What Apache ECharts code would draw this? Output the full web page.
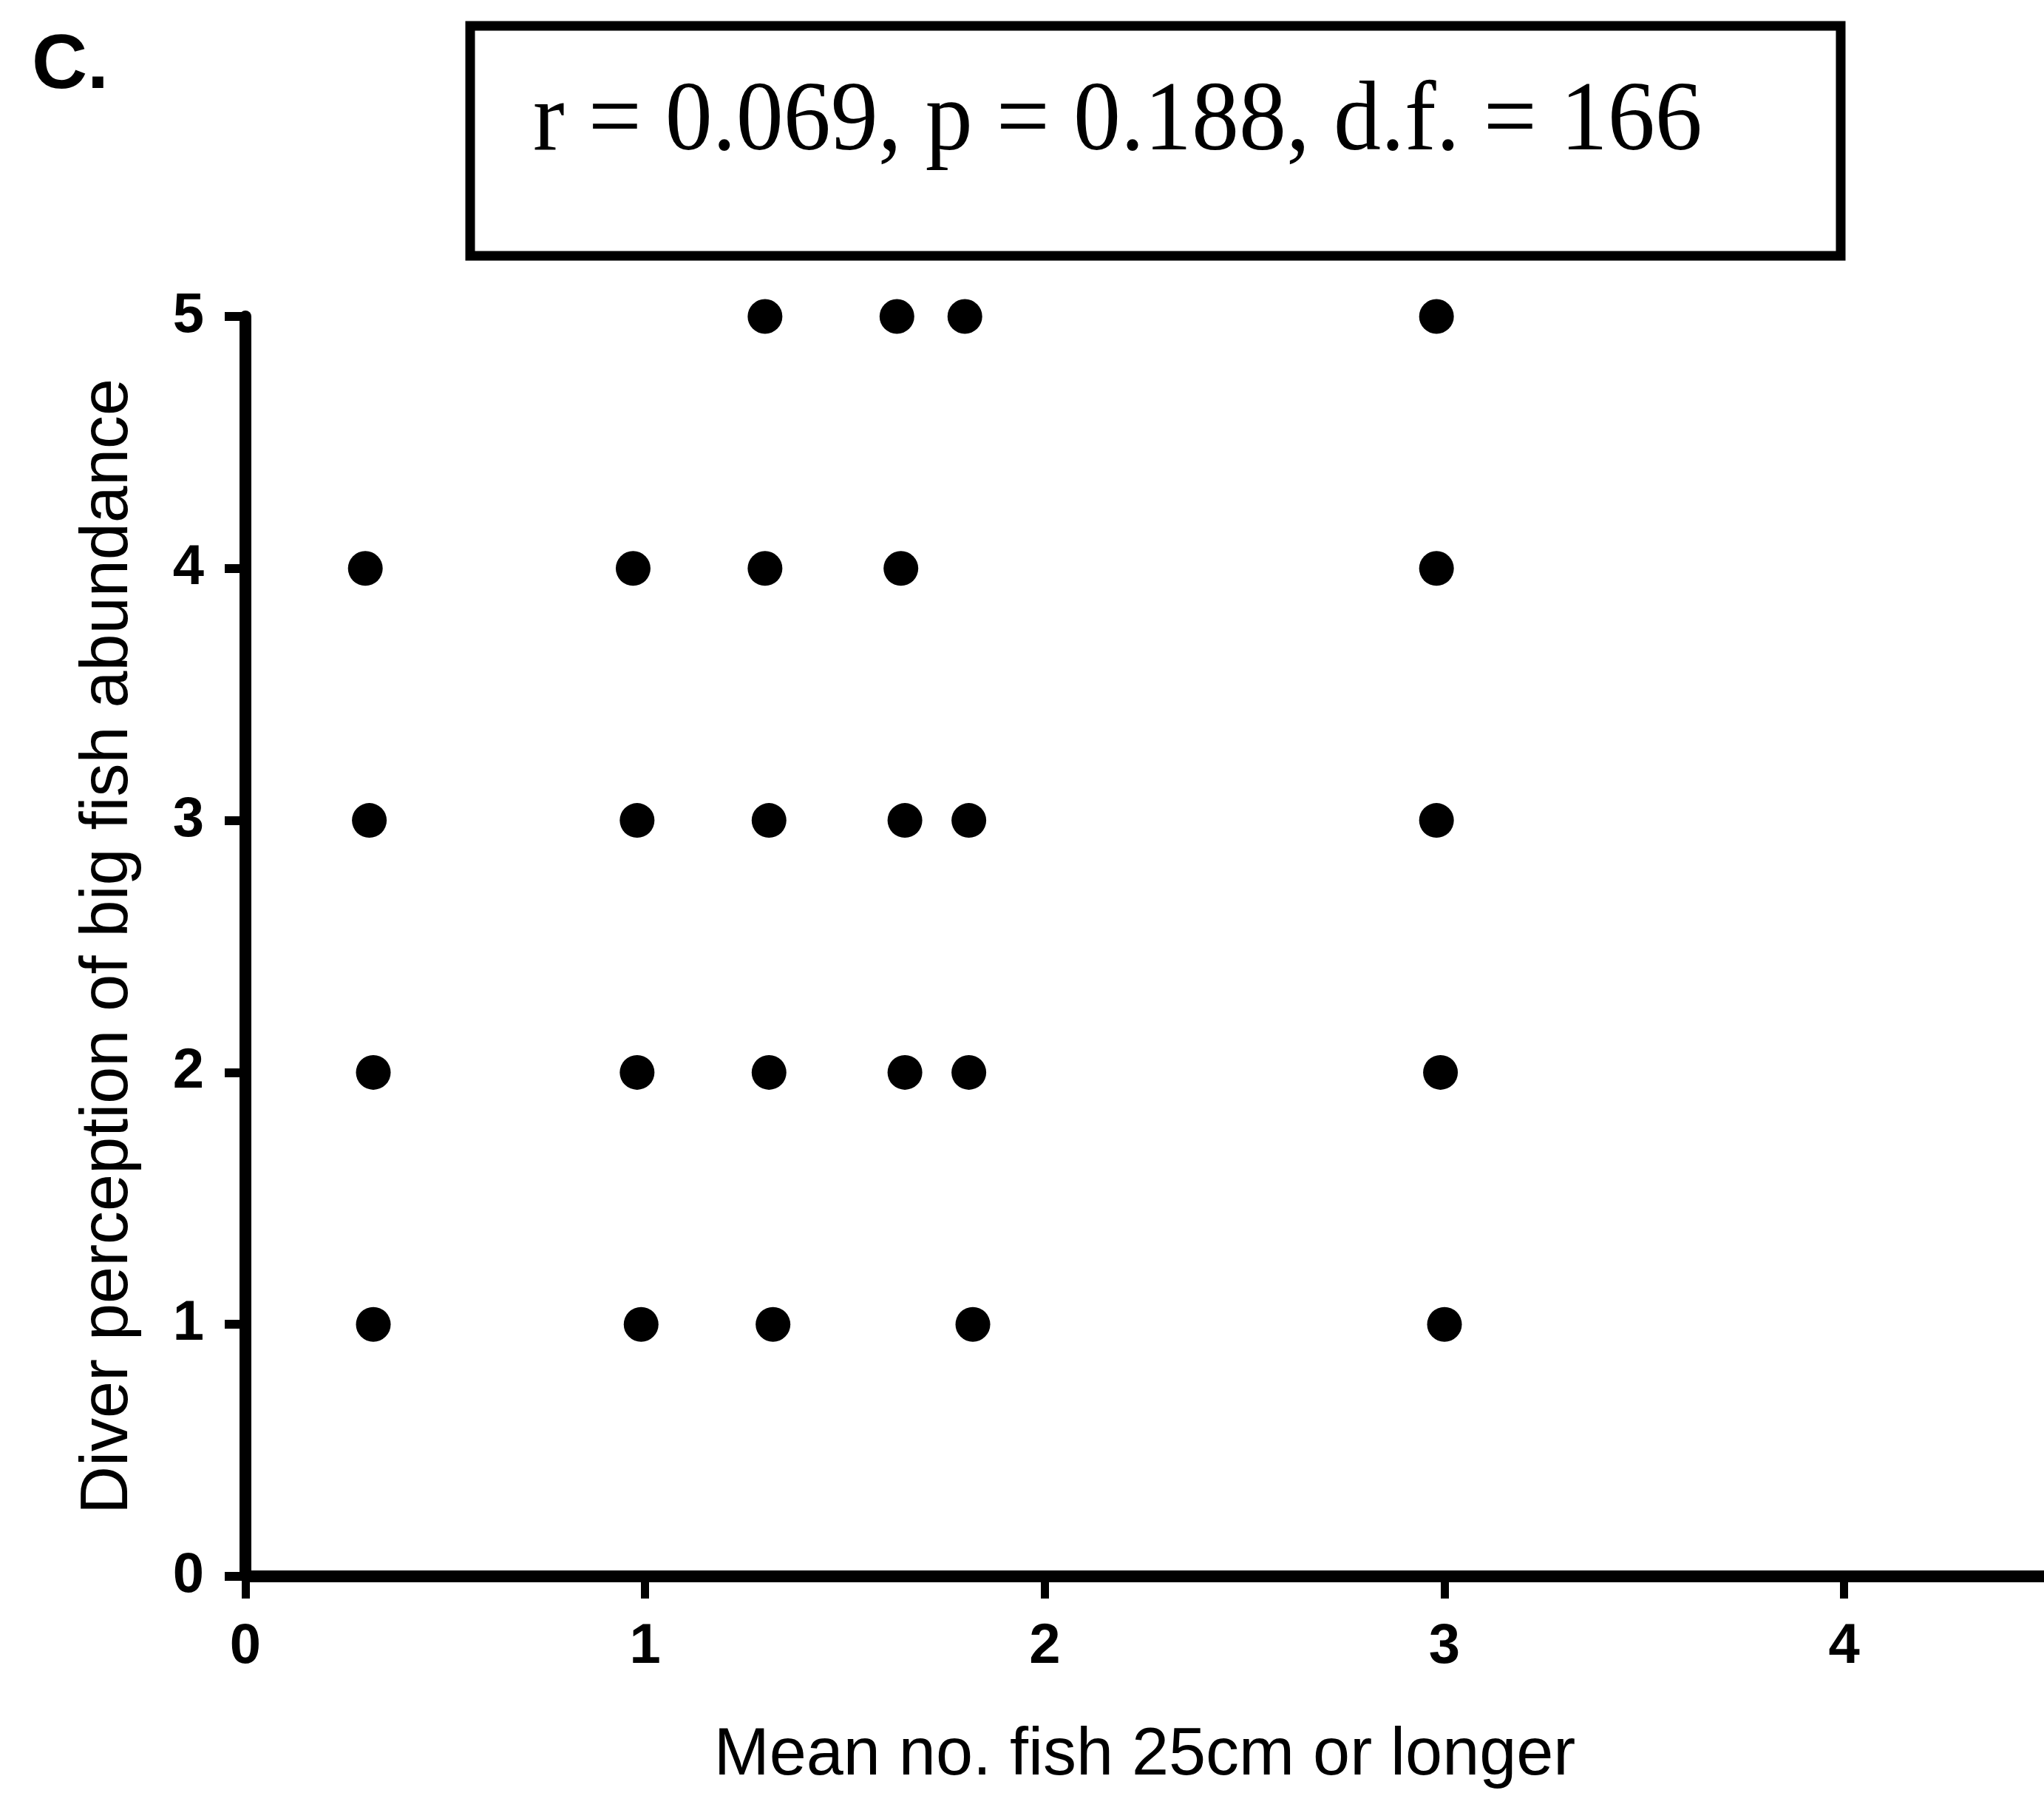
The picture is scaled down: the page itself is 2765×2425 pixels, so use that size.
<!DOCTYPE html>
<html>
<head>
<meta charset="utf-8">
<script src="https://cdn.jsdelivr.net/npm/echarts@6/dist/echarts.min.js"></script>
<style>
html,body{margin:0;padding:0;background:#fff;}
#chart{width:2765px;height:2425px;}
</style>
</head>
<body>
<div id="chart"></div>
<script>
// ---- data ----
const panelLabel = 'C.';
const statsText = 'r = 0.069, p = 0.188, d.f. = 166';
const xTitle = 'Mean no. fish 25cm or longer';
const yTitle = 'Diver perception of big fish abundance';
const xTicks = [0, 1, 2, 3, 4];
const yTicks = [0, 1, 2, 3, 4, 5];

// mean no. fish (x) for each diver perception score (y)
const perception1 = [0.32, 0.99, 1.32, 1.82, 3.00];
const perception2 = [0.32, 0.98, 1.31, 1.65, 1.81, 2.99];
const perception3 = [0.31, 0.98, 1.31, 1.65, 1.81, 2.98];
const perception4 = [0.30, 0.97, 1.30, 1.64, 2.98];
const perception5 = [1.30, 1.63, 1.80, 2.98];

const rows = [
  [1, perception1],
  [2, perception2],
  [3, perception3],
  [4, perception4],
  [5, perception5]
];
const points = [];
rows.forEach(function (r) {
  r[1].forEach(function (x) { points.push([x, r[0]]); });
});

const chart = echarts.init(document.getElementById('chart'));
const sans = '"Liberation Sans", Arial, Helvetica, sans-serif';
const serif = '"Liberation Serif", "Times New Roman", serif';

chart.setOption({
  backgroundColor: '#ffffff',
  animation: false,
  grid: { left: 332, right: 0, top: 428, bottom: 288, containLabel: false },
  xAxis: {
    type: 'value',
    min: 0,
    max: 4.5,
    interval: 1,
    name: xTitle,
    nameLocation: 'middle',
    nameGap: 198,
    nameTextStyle: { fontFamily: sans, fontSize: 90, color: '#000' },
    axisLine: { show: true, onZero: false, lineStyle: { color: '#000', width: 16 } },
    axisTick: { show: true, length: 30, customValues: xTicks, lineStyle: { color: '#000', width: 11 } },
    axisLabel: { customValues: xTicks, margin: 58, fontFamily: sans, fontWeight: 'bold', fontSize: 76, color: '#000' },
    splitLine: { show: false }
  },
  yAxis: {
    type: 'value',
    min: 0,
    max: 5,
    interval: 1,
    name: yTitle,
    nameLocation: 'middle',
    nameGap: 140,
    nameRotate: 90,
    nameTextStyle: { fontFamily: sans, fontSize: 90, color: '#000' },
    axisLine: { show: true, onZero: false, lineStyle: { color: '#000', width: 16 } },
    axisTick: { show: true, length: 28, customValues: yTicks, lineStyle: { color: '#000', width: 12 } },
    axisLabel: { customValues: yTicks, margin: 56, fontFamily: sans, fontWeight: 'bold', fontSize: 76, color: '#000' },
    splitLine: { show: false }
  },
  series: [{
    type: 'scatter',
    data: points,
    symbol: 'circle',
    symbolSize: 47,
    itemStyle: { color: '#000', opacity: 1 },
    clip: false
  }],
  graphic: [
    {
      type: 'text',
      left: 43,
      top: 38,
      style: { text: panelLabel, font: 'bold 104px ' + sans, fill: '#000' }
    },
    {
      type: 'rect',
      shape: { x: 636, y: 35, width: 1854, height: 311 },
      style: { fill: 'none', stroke: '#000', lineWidth: 13 }
    },
    {
      type: 'text',
      x: 721,
      y: 167,
      scaleY: 1.04,
      style: {
        text: statsText,
        font: '128px ' + serif,
        fill: '#000',
        textAlign: 'left',
        textVerticalAlign: 'middle'
      }
    }
  ]
});
</script>
</body>
</html>
